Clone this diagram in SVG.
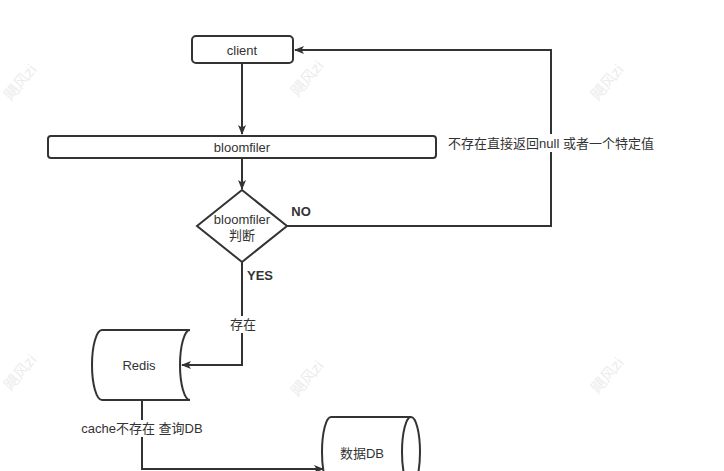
<svg xmlns="http://www.w3.org/2000/svg" width="724" height="471" viewBox="0 0 724 471">
<style>
.shape{fill:#fff;stroke:#333;stroke-width:2}
.edge{fill:none;stroke:#333;stroke-width:2}
text{font-family:"Liberation Sans","Noto Sans CJK SC",sans-serif;font-size:13px;fill:#333;text-anchor:middle;dominant-baseline:central}
.b{font-weight:bold}
.wm{fill:#ececec;font-size:15px}
</style>
<defs>
<marker id="arr" viewBox="0 0 10 10" refX="9" refY="5" markerWidth="10" markerHeight="10" markerUnits="userSpaceOnUse" orient="auto">
<path d="M0,1 L10,5 L0,9 L2.5,5 Z" fill="#333"/>
</marker>
</defs>
<rect width="724" height="471" fill="#fff"/>
<g id="watermarks">
<text class="wm" x="20" y="82" transform="rotate(-50 20 82)">飓风zi</text>
<text class="wm" x="307" y="78" transform="rotate(-50 307 78)">飓风zi</text>
<text class="wm" x="607" y="82" transform="rotate(-50 607 82)">飓风zi</text>
<text class="wm" x="20" y="372" transform="rotate(-50 20 372)">飓风zi</text>
<text class="wm" x="307" y="378" transform="rotate(-50 307 378)">飓风zi</text>
<text class="wm" x="607" y="375" transform="rotate(-50 607 375)">飓风zi</text>
</g>
<g id="connectors">
<path class="edge" d="M242,63 V134" marker-end="url(#arr)"/>
<path class="edge" d="M242,158 V189" marker-end="url(#arr)"/>
<path class="edge" d="M287,226 H551 V50 H295" marker-end="url(#arr)"/>
<path class="edge" d="M242,262 V365 H182" marker-end="url(#arr)"/>
<path class="edge" d="M142,400 V469 H323" marker-end="url(#arr)"/>
<rect x="445" y="134" width="213" height="18" fill="#fff"/>
<text x="551" y="143">不存在直接返回null 或者一个特定值</text>
<text class="b" x="301" y="211">NO</text>
<text class="b" x="260" y="275">YES</text>
<rect x="227" y="316" width="32" height="17" fill="#fff"/>
<text x="243" y="324">存在</text>
<rect x="80" y="420" width="125" height="17" fill="#fff"/>
<text x="142" y="428">cache不存在 查询DB</text>
</g>
<g id="client">
<rect class="shape" x="192" y="36" width="101" height="27" rx="4"/>
<text x="242" y="50">client</text>
</g>
<g id="bloomfiler">
<rect class="shape" x="48" y="136" width="388" height="22" rx="3"/>
<text x="242" y="147">bloomfiler</text>
</g>
<g id="decision">
<path class="shape" d="M242,190 L287,226 L242,262 L197,226 Z"/>
<text x="242" y="219">bloomfiler</text>
<text x="242" y="235">判断</text>
</g>
<g id="redis">
<path class="shape" d="M102,330 H190 A10,35 0 0 0 190,400 H102 A10,35 0 0 1 102,330 Z"/>
<text x="139" y="365">Redis</text>
</g>
<g id="db">
<path class="shape" d="M331,417 H411 A9,35 0 0 1 411,487 H331 A9,35 0 0 1 331,417 Z"/>
<path class="edge" d="M411,417 A9,35 0 0 0 411,487"/>
<text x="362" y="453">数据DB</text>
</g>
</svg>
